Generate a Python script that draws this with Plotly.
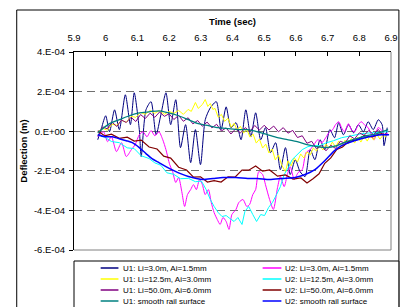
import numpy as np
import plotly.graph_objects as go

SCALE = 1e-4  # deflection values below are in units of 1e-4 m

x_tick_vals = [5.9, 6.0, 6.1, 6.2, 6.3, 6.4, 6.5, 6.6, 6.7, 6.8, 6.9]
x_tick_text = ["5.9", "6", "6.1", "6.2", "6.3", "6.4", "6.5", "6.6", "6.7", "6.8", "6.9"]
y_tick_vals = [-6, -4, -2, 0, 2, 4]
y_tick_text = ["-6.E-04", "-4.E-04", "-2.E-04", "0.E+00", "2.E-04", "4.E-04"]

# U1: Li=3.0m, Ai=1.5mm
t_u1_3 = [5.975, 5.987, 6.000, 6.012, 6.028, 6.043, 6.062, 6.078, 6.090, 6.106,
          6.112, 6.127, 6.143, 6.159, 6.174, 6.190, 6.205, 6.221, 6.236, 6.252,
          6.268, 6.283, 6.299, 6.314, 6.330, 6.349, 6.364, 6.380, 6.395, 6.411,
          6.427, 6.442, 6.458, 6.473, 6.489, 6.504, 6.520, 6.536, 6.551, 6.567,
          6.582, 6.598, 6.613, 6.629, 6.645, 6.660, 6.676, 6.691, 6.707, 6.722,
          6.735, 6.750, 6.766, 6.782, 6.797, 6.813, 6.828, 6.844, 6.860, 6.872,
          6.878, 6.888]
d_u1_3 = [-0.43, 0.18, 0.78, -0.03, 1.08, 0.08, 1.84, 0.33, 1.94, 0.08,
          -1.28, 1.08, 1.49, -0.18, 0.83, 1.94, 0.33, 1.59, -0.83, 0.33,
          -1.59, 0.08, -1.69, 0.58, 1.18, 1.49, 0.08, 1.23, 0.18, 0.43,
          -0.43, 1.08, -0.28, 0.93, -0.43, 0.18, -1.08, -0.58, -1.94, -0.83,
          -2.19, -1.44, -2.04, -2.29, -0.93, -1.44, -0.43, -0.93, 0.08, -0.33,
          0.43, -0.18, 0.33, -0.08, 0.33, -0.03, 0.48, 0.08, 0.58, 0.33,
          -0.73, 0.18]

# U2: Li=3.0m, Ai=1.5mm
t_u2_3 = [5.975, 5.993, 6.006, 6.018, 6.034, 6.050, 6.065, 6.081, 6.093, 6.106,
          6.118, 6.130, 6.143, 6.155, 6.168, 6.180, 6.190, 6.202, 6.211, 6.221,
          6.230, 6.240, 6.249, 6.258, 6.268, 6.277, 6.286, 6.296, 6.305, 6.314,
          6.324, 6.333, 6.342, 6.352, 6.361, 6.370, 6.380, 6.389, 6.398, 6.411,
          6.420, 6.433, 6.445, 6.454, 6.464, 6.473, 6.483, 6.495, 6.504, 6.517,
          6.529, 6.542, 6.551, 6.563, 6.573, 6.582, 6.595, 6.607, 6.620, 6.632,
          6.645, 6.657, 6.669, 6.682, 6.694, 6.704, 6.716, 6.725, 6.735, 6.744,
          6.753, 6.766, 6.775, 6.785, 6.797, 6.806, 6.819, 6.828, 6.838, 6.847,
          6.859, 6.869, 6.878, 6.891]
d_u2_3 = [-0.28, -0.03, -0.53, -0.28, -1.03, -0.58, -1.28, -0.93, -0.68, -0.18,
          -0.03, -0.28, 0.03, -0.23, -0.03, -0.43, -0.93, -1.69, -2.04, -2.59,
          -2.34, -3.05, -3.80, -3.20, -2.95, -2.70, -2.95, -2.44, -2.70, -3.20,
          -2.95, -3.60, -4.11, -4.46, -4.71, -4.36, -4.56, -4.96, -4.21, -3.95,
          -3.60, -3.45, -3.80, -3.70, -3.20, -2.95, -2.04, -2.19, -2.70, -3.45,
          -3.95, -2.85, -2.29, -2.80, -2.19, -1.79, -2.44, -2.09, -1.94, -1.08,
          -0.93, -0.68, -0.43, -0.58, -0.33, -0.08, 0.08, 0.33, 0.48, 0.18,
          -0.03, 0.38, 0.08, -0.03, 0.33, 0.48, 0.28, 0.18, -0.18, -0.43,
          0.18, 0.08, -0.18, -0.08]

# U1: Li=12.5m, Ai=3.0mm
t_u1_12 = [5.975, 5.990, 6.005, 6.020, 6.035, 6.050, 6.065, 6.080, 6.095, 6.110,
           6.125, 6.140, 6.155, 6.170, 6.185, 6.200, 6.215, 6.230, 6.245, 6.260,
           6.270, 6.283, 6.292, 6.305, 6.314, 6.322, 6.330, 6.338, 6.345,
           6.355, 6.365, 6.375, 6.386, 6.396, 6.405, 6.415, 6.425, 6.435, 6.445,
           6.455, 6.465, 6.475, 6.485, 6.495, 6.505, 6.515, 6.525, 6.535, 6.545,
           6.555, 6.567, 6.575, 6.585, 6.595, 6.605, 6.615, 6.625, 6.635, 6.645,
           6.655, 6.665, 6.675, 6.685, 6.695, 6.705, 6.715, 6.725, 6.735, 6.745,
           6.755, 6.765, 6.775, 6.785, 6.795, 6.805, 6.815, 6.825, 6.835, 6.845,
           6.855, 6.865, 6.875, 6.885]
d_u1_12 = [-0.05, 0.15, 0.05, 0.35, 0.30, 0.55, 0.45, 0.75, 0.70, 0.95,
           0.85, 1.05, 0.90, 1.05, 0.85, 1.00, 0.90, 1.05, 0.85, 1.10,
           1.00, 1.45, 1.15, 1.35, 1.60, 1.25, 1.40, 1.10, 1.15,
           0.70, 0.85, 0.50, 0.65, 0.20, 0.40, 0.05, 0.25, -0.10, 0.10,
           -0.30, -0.15, -0.60, -0.40, -0.85, -0.65, -1.10, -0.90, -1.45, -1.20,
           -1.70, -2.05, -1.50, -1.75, -1.35, -1.55, -1.15, -1.35, -1.05, -1.20,
           -0.85, -1.00, -0.70, -0.95, -0.65, -0.85, -0.55, -0.80, -0.50, -0.75,
           -0.45, -0.65, -0.35, -0.60, -0.30, -0.55, -0.25, -0.50, -0.20, -0.45,
           -0.15, -0.40, -0.20, -0.30]

# U2: Li=12.5m, Ai=3.0mm
t_u2_12 = [5.975, 5.997, 6.018, 6.043, 6.068, 6.090, 6.112, 6.137, 6.155, 6.174,
           6.193, 6.215, 6.236, 6.261, 6.283, 6.302, 6.317, 6.330, 6.342, 6.355,
           6.367, 6.380, 6.392, 6.405, 6.417, 6.430, 6.439, 6.451, 6.464, 6.476,
           6.489, 6.501, 6.514, 6.526, 6.539, 6.551, 6.563, 6.576, 6.588, 6.604,
           6.620, 6.638, 6.657, 6.676, 6.697, 6.719, 6.744, 6.775, 6.806, 6.838,
           6.869, 6.891]
d_u2_12 = [-0.18, -0.30, -0.52, -0.58, -0.84, -0.88, -1.24, -1.38, -1.60, -1.72,
           -2.10, -2.18, -2.40, -2.38, -2.55, -2.52, -2.95, -3.45, -3.80, -4.11,
           -4.31, -4.26, -4.41, -4.56, -4.36, -4.71, -4.06, -3.80, -4.21, -4.56,
           -4.21, -4.26, -3.85, -3.60, -3.20, -2.80, -2.19, -1.84, -1.44, -1.18,
           -0.93, -0.78, -0.73, -0.73, -0.58, -0.48, -0.33, -0.23, -0.13, -0.08,
           -0.03, -0.03]

# U1: Li=50.0m, Ai=6.0mm
t_u1_50 = [5.975, 5.990, 6.005, 6.020, 6.035, 6.050, 6.065, 6.080, 6.095, 6.110,
           6.125, 6.140, 6.155, 6.170, 6.185, 6.200, 6.215, 6.230, 6.245, 6.260,
           6.275, 6.290, 6.305, 6.320, 6.335, 6.350, 6.365, 6.380, 6.395, 6.410,
           6.425, 6.440, 6.455, 6.470, 6.485, 6.500, 6.515, 6.530, 6.545, 6.560,
           6.575, 6.590, 6.605, 6.620, 6.635, 6.650, 6.665, 6.680, 6.695, 6.710,
           6.725, 6.740, 6.755, 6.770, 6.785, 6.800, 6.815, 6.830, 6.845, 6.860,
           6.875, 6.885]
d_u1_50 = [-0.25, 0.22, 0.12, 0.45, 0.24, 0.56, 0.44, 0.70, 0.49, 0.84,
           0.64, 0.91, 0.70, 0.97, 0.75, 0.88, 0.59, 0.80, 0.50, 0.68,
           0.37, 0.54, 0.25, 0.46, 0.17, 0.35, 0.01, 0.17, -0.14, 0.12,
           -0.09, 0.18, -0.01, 0.29, 0.06, 0.30, 0.06, 0.26, -0.03, 0.18,
           -0.10, 0.04, -0.32, -0.23, -0.61, -0.51, -0.89, -0.72, -0.99, -0.71,
           -0.87, -0.51, -0.60, -0.23, -0.39, -0.08, -0.21, 0.04, -0.18, 0.09,
           -0.22, -0.10]

# U2: Li=50.0m, Ai=6.0mm
t_u2_50 = [5.975, 5.997, 6.018, 6.043, 6.068, 6.090, 6.112, 6.137, 6.162, 6.183,
           6.205, 6.230, 6.255, 6.277, 6.299, 6.321, 6.342, 6.364, 6.386, 6.408,
           6.430, 6.451, 6.473, 6.495, 6.517, 6.542, 6.567, 6.591, 6.616, 6.635,
           6.654, 6.673, 6.691, 6.710, 6.729, 6.747, 6.766, 6.791, 6.816, 6.841,
           6.866, 6.891]
d_u2_50 = [0.02, -0.24, -0.15, -0.36, -0.30, -0.50, -0.45, -0.80, -0.90, -1.26,
           -1.36, -1.82, -1.96, -2.32, -2.30, -2.57, -2.50, -2.57, -2.30, -2.32,
           -1.96, -1.97, -1.76, -2.02, -1.96, -2.27, -2.21, -2.42, -2.36, -2.62,
           -2.40, -2.15, -1.62, -1.35, -0.92, -0.80, -0.52, -0.44, -0.22, -0.29,
           -0.14, -0.18]

# U1: smooth rail surface
t_u1_s = [5.975, 6.012, 6.043, 6.074, 6.106, 6.137, 6.168, 6.199, 6.230, 6.261,
          6.292, 6.324, 6.355, 6.386, 6.417, 6.448, 6.479, 6.511, 6.542, 6.573,
          6.604, 6.635, 6.666, 6.697, 6.729, 6.760, 6.791, 6.822, 6.853, 6.891]
d_u1_s = [-0.08, 0.38, 0.58, 0.78, 0.93, 0.98, 1.03, 0.93, 0.78, 0.58,
          0.38, 0.28, 0.18, 0.13, 0.08, 0.08, -0.03, -0.18, -0.33, -0.43,
          -0.53, -0.68, -0.78, -0.83, -0.73, -0.53, -0.38, -0.23, -0.13, 0.08]

# U2: smooth rail surface
t_u2_s = [5.975, 5.997, 6.021, 6.043, 6.065, 6.084, 6.106, 6.127, 6.146, 6.168,
          6.190, 6.215, 6.236, 6.261, 6.286, 6.308, 6.339, 6.370, 6.411, 6.448,
          6.479, 6.517, 6.557, 6.598, 6.629, 6.660, 6.691, 6.722, 6.744, 6.766,
          6.806, 6.847, 6.872, 6.894]
d_u2_s = [-0.18, -0.28, -0.28, -0.38, -0.48, -0.58, -0.83, -1.13, -1.39, -1.59,
          -1.79, -1.99, -2.14, -2.29, -2.39, -2.44, -2.39, -2.34, -2.34, -2.39,
          -2.39, -2.44, -2.39, -2.34, -2.19, -1.94, -1.49, -0.98, -0.73, -0.58,
          -0.38, -0.23, -0.18, -0.18]

series = [
    ("U1: Li=3.0m, Ai=1.5mm", t_u1_3, d_u1_3, "#000080", 1.0, "spline"),
    ("U2: Li=3.0m, Ai=1.5mm", t_u2_3, d_u2_3, "#FF00FF", 1.0, "spline"),
    ("U1: Li=12.5m, Ai=3.0mm", t_u1_12, d_u1_12, "#FFFF00", 1.0, "linear"),
    ("U2: Li=12.5m, Ai=3.0mm", t_u2_12, d_u2_12, "#00FFFF", 1.0, "linear"),
    ("U1: Li=50.0m, Ai=6.0mm", t_u1_50, d_u1_50, "#800080", 1.0, "linear"),
    ("U2: Li=50.0m, Ai=6.0mm", t_u2_50, d_u2_50, "#800000", 1.2, "linear"),
    ("U1: smooth rail surface", t_u1_s, d_u1_s, "#008080", 1.3, "spline"),
    ("U2: smooth rail surface", t_u2_s, d_u2_s, "#0000FF", 1.5, "spline"),
]

FONT = "Liberation Sans, Arial, sans-serif"
W, H = 410, 307
L, R, T, B = 74, 395, 52, 250  # plot area in pixels

def px_x(p):
    return (p - L) / (R - L)

def px_y(p):
    return (B - p) / (B - T)

fig = go.Figure()
for name, t, d, color, width, shape in series:
    fig.add_trace(go.Scatter(
        x=t, y=np.array(d) * SCALE, mode="lines", name=name,
        line=dict(color=color, width=width, shape=shape, smoothing=0.7),
        showlegend=False, hoverinfo="skip"))

shapes = []
annotations = []
# outer chart border
shapes.append(dict(type="rect", xref="paper", yref="paper",
                   x0=px_x(16), x1=px_x(403), y0=px_y(312), y1=px_y(10),
                   line=dict(color="black", width=1), layer="below"))
# plot-area right and bottom border (grey)
shapes.append(dict(type="line", xref="paper", yref="paper", x0=1, x1=1, y0=0, y1=1,
                   line=dict(color="#808080", width=1)))
shapes.append(dict(type="line", xref="paper", yref="paper", x0=0, x1=1, y0=0, y1=0,
                   line=dict(color="#808080", width=1)))
# legend box
shapes.append(dict(type="rect", xref="paper", yref="paper",
                   x0=0, x1=px_x(403), y0=px_y(312), y1=px_y(261),
                   line=dict(color="black", width=1), fillcolor="white"))
row_y = [268, 279, 290, 301]
col_x = [(101, 119, 122), (265, 284, 286)]
for i, (name, t, d, color, width, shape) in enumerate(series):
    col = i % 2
    row = i // 2
    x0, x1, xt = col_x[col]
    yy = px_y(row_y[row])
    shapes.append(dict(type="line", xref="paper", yref="paper",
                       x0=px_x(x0), x1=px_x(x1), y0=yy, y1=yy,
                       line=dict(color=color, width=1.5)))
    annotations.append(dict(xref="paper", yref="paper", x=px_x(xt), y=yy,
                            text=name, showarrow=False, xanchor="left", yanchor="middle",
                            font=dict(family=FONT, size=8, color="black")))

fig.update_layout(
    width=W, height=H,
    margin=dict(l=L, r=W - R, t=T, b=H - B, pad=0),
    paper_bgcolor="white", plot_bgcolor="white",
    font=dict(family=FONT, size=9.5, color="black"),
    showlegend=False,
    shapes=shapes, annotations=annotations,
    xaxis=dict(
        side="top", range=[5.9, 6.9], tickvals=x_tick_vals, ticktext=x_tick_text,
        ticks="inside", ticklen=4, tickcolor="black", showline=True, linecolor="black",
        linewidth=1, showgrid=False, zeroline=False, ticklabelstandoff=6,
        title=dict(text="<b>Time (sec)</b>", font=dict(family=FONT, size=9.5), standoff=4),
        fixedrange=True,
    ),
    yaxis=dict(
        range=[-6 * SCALE, 4 * SCALE], tickvals=[v * SCALE for v in y_tick_vals],
        ticktext=y_tick_text, ticks="outside", ticklen=4, tickcolor="black",
        showline=True, linecolor="black", linewidth=1,
        showgrid=True, gridcolor="#707070", griddash="8px,5px", gridwidth=1,
        zeroline=False, ticklabelstandoff=2,
        title=dict(text="<b>Deflection (m)</b>", font=dict(family=FONT, size=9.5), standoff=4),
        fixedrange=True,
    ),
)

fig.write_html(
    "out.html",
    config={"displayModeBar": False},
    post_script="document.body.style.margin='0';document.body.style.overflow='hidden';",
)
